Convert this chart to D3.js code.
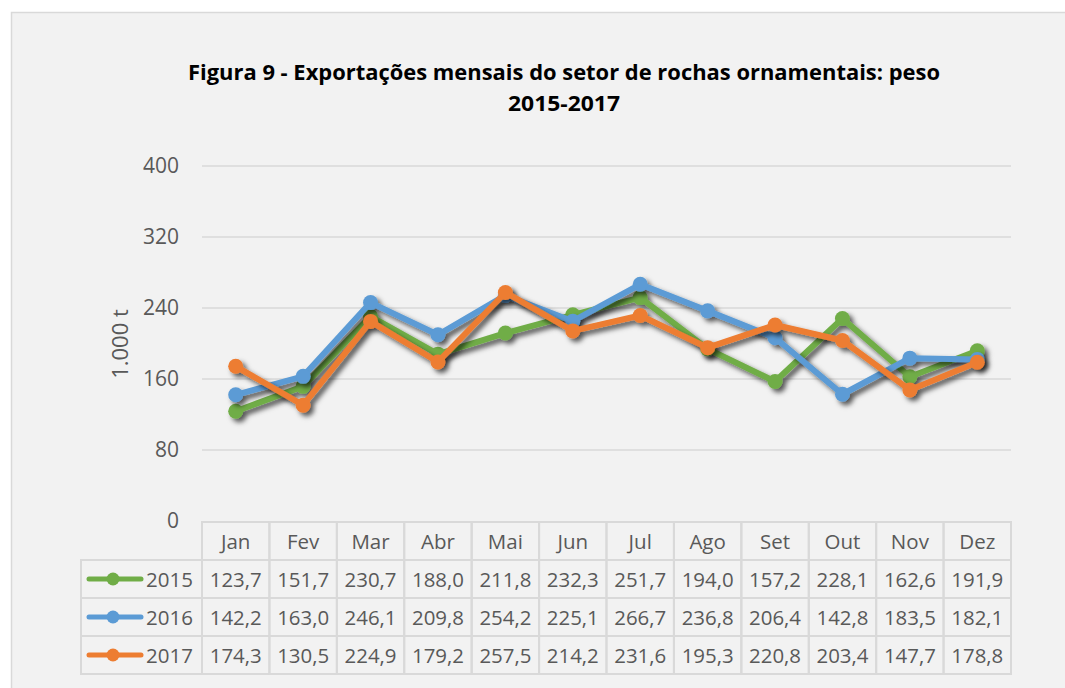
<!DOCTYPE html>
<html>
<head>
<meta charset="utf-8">
<script src="https://cdn.jsdelivr.net/npm/d3@7"></script>
<style>
  html, body { margin: 0; padding: 0; background: #fff; }
  svg { display: block; font-family: "Open Sans", sans-serif; }
</style>
</head>
<body>
<svg width="1065" height="688"></svg>
<script>
// monthly export weight, 1.000 t

var months = ['Jan', 'Fev', 'Mar', 'Abr', 'Mai', 'Jun', 'Jul', 'Ago', 'Set', 'Out', 'Nov', 'Dez']
var years = ['2015', '2016', '2017']
var v2015 = [123.7, 151.7, 230.7, 188.0, 211.8, 232.3, 251.7, 194.0, 157.2, 228.1, 162.6, 191.9]
var v2016 = [142.2, 163.0, 246.1, 209.8, 254.2, 225.1, 266.7, 236.8, 206.4, 142.8, 183.5, 182.1]
var v2017 = [174.3, 130.5, 224.9, 179.2, 257.5, 214.2, 231.6, 195.3, 220.8, 203.4, 147.7, 178.8]
var yTicks = [0, 80, 160, 240, 320, 400]

var colors = ['#70ad47', '#5b9bd5', '#ed7d31']
var series = years.map(function(y, i) {
    return { year: y, values: [v2015, v2016, v2017][i], color: colors[i] }
})

var fmt = d3.formatLocale({ decimal: ',', thousands: '.', grouping: [3], currency: ['', ''] }).format('.1f')

var svg = d3.select('svg')

// chart area
svg.append('rect')
    .attr('x', 11.5).attr('y', 12.5)
    .attr('width', 1100).attr('height', 700)
    .attr('fill', '#f2f2f2')
    .attr('stroke', '#d9d9d9')
    .attr('stroke-width', 1.5)

var defs = svg.append('defs')
defs.append('filter')
    .attr('id', 'shadow')
    .attr('x', '-10%').attr('y', '-10%')
    .attr('width', '130%').attr('height', '130%')
    .append('feDropShadow')
    .attr('dx', 3.5).attr('dy', 3.5)
    .attr('stdDeviation', 2.6)
    .attr('flood-color', '#000')
    .attr('flood-opacity', 0.65)

// title
var title = svg.append('g')
    .attr('text-anchor', 'middle')
    .style('font-weight', 'bold')
    .style('font-size', '22px')
    .style('fill', '#000')
title.append('text').attr('x', 564).attr('y', 80)
    .attr('textLength', 752)
    .attr('lengthAdjust', 'spacingAndGlyphs')
    .text('Figura 9 - Exportações mensais do setor de rochas ornamentais: peso')
title.append('text').attr('x', 564).attr('y', 111)
    .attr('textLength', 112)
    .attr('lengthAdjust', 'spacingAndGlyphs')
    .text('2015-2017')

var x = d3.scaleBand().domain(months).range([202, 1011])
var y = d3.scaleLinear().domain([0, 400]).range([521, 166])

// gridlines
svg.append('g')
    .selectAll('line')
    .data(yTicks.slice(1))
    .enter()
    .append('line')
    .attr('x1', 202).attr('x2', 1011)
    .attr('y1', d => y(d)).attr('y2', d => y(d))
    .attr('stroke', '#d9d9d9')
    .attr('stroke-width', 1.5)

var yAxis = d3.axisLeft(y).tickValues(yTicks).tickSize(0).tickPadding(23)
var gy = svg.append('g')
    .attr('transform', 'translate(202,0)')
    .call(yAxis)
gy.select('.domain').remove()
gy.selectAll('text')
    .style('font-family', '"Open Sans", sans-serif')
    .style('font-size', '21px')
    .style('fill', '#595959')

svg.append('text')
    .attr('transform', 'translate(128,344) rotate(-90)')
    .attr('text-anchor', 'middle')
    .style('font-size', '22px')
    .style('fill', '#595959')
    .text('1.000 t')

// lines
var line = d3.line()
    .x((d, i) => x(months[i]) + x.bandwidth() / 2)
    .y(d => y(d))

var sg = svg.selectAll('.series')
    .data(series)
    .enter()
    .append('g')
    .attr('class', 'series')
    .attr('filter', 'url(#shadow)')

sg.append('path')
    .attr('d', d => line(d.values))
    .attr('fill', 'none')
    .attr('stroke', d => d.color)
    .attr('stroke-width', 6)
    .attr('stroke-linejoin', 'round')

sg.selectAll('circle')
    .data(d => d.values.map(v => ({ v: v, color: d.color })))
    .enter()
    .append('circle')
    .attr('cx', (d, i) => x(months[i]) + x.bandwidth() / 2)
    .attr('cy', d => y(d.v))
    .attr('r', 7.5)
    .attr('fill', d => d.color)

// data table
var tableTop = 522, rowH = 38, legendX = 81
var table = svg.append('g')
var border = '#d9d9d9'

table.selectAll('.hcell')
    .data(months)
    .enter()
    .append('rect')
    .attr('x', d => x(d)).attr('y', tableTop)
    .attr('width', x.bandwidth()).attr('height', rowH)
    .attr('fill', 'none').attr('stroke', border).attr('stroke-width', 2)

table.selectAll('.htext')
    .data(months)
    .enter()
    .append('text')
    .attr('x', d => x(d) + x.bandwidth() / 2)
    .attr('y', tableTop + rowH / 2 + 8)
    .attr('text-anchor', 'middle')
    .style('font-size', '20.5px')
    .style('fill', '#595959')
    .text(d => d)

var rows = table.selectAll('.row')
    .data(series)
    .enter()
    .append('g')
    .attr('transform', (d, i) => 'translate(0,' + (tableTop + rowH * (i + 1)) + ')')

rows.append('rect')
    .attr('x', legendX).attr('y', 0)
    .attr('width', 202 - legendX).attr('height', rowH)
    .attr('fill', 'none').attr('stroke', border).attr('stroke-width', 2)

rows.append('line')
    .attr('x1', 89).attr('x2', 141)
    .attr('y1', rowH / 2).attr('y2', rowH / 2)
    .attr('stroke', d => d.color)
    .attr('stroke-width', 5)
    .attr('stroke-linecap', 'round')

rows.append('circle')
    .attr('cx', 113).attr('cy', rowH / 2).attr('r', 6.5)
    .attr('fill', d => d.color)

rows.append('text')
    .attr('x', 146).attr('y', rowH / 2 + 7.5)
    .style('font-size', '20.5px')
    .style('fill', '#595959')
    .text(d => d.year)

rows.selectAll('.cell')
    .data(d => d.values)
    .enter()
    .append('rect')
    .attr('x', (d, i) => x(months[i])).attr('y', 0)
    .attr('width', x.bandwidth()).attr('height', rowH)
    .attr('fill', 'none').attr('stroke', border).attr('stroke-width', 2)

rows.selectAll('.val')
    .data(d => d.values)
    .enter()
    .append('text')
    .attr('x', (d, i) => x(months[i]) + x.bandwidth() / 2)
    .attr('y', rowH / 2 + 7.5)
    .attr('text-anchor', 'middle')
    .attr('textLength', 52)
    .attr('lengthAdjust', 'spacingAndGlyphs')
    .style('font-size', '20.5px')
    .style('fill', '#595959')
    .text(d => fmt(d))
</script>
</body>
</html>
